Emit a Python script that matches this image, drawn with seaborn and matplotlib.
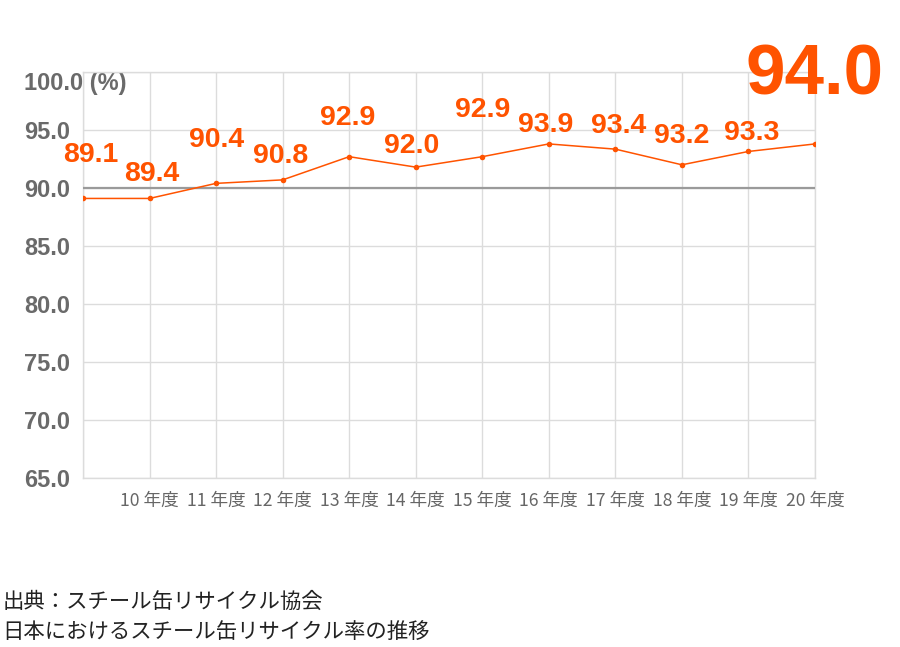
import numpy as np
import pandas as pd
import seaborn as sns
import matplotlib.pyplot as plt

# fiscal years, rate as drawn, and numbers printed above the points
years = ['09', '10', '11', '12', '13', '14', '15', '16', '17', '18', '19', '20']
rates = [89.1, 89.1, 90.4, 90.7, 92.7, 91.8, 92.7, 93.8, 93.35, 92.0, 93.15, 93.8]
rate_labels = ['89.1', '89.4', '90.4', '90.8', '92.9', '92.0', '92.9', '93.9', '93.4', '93.2', '93.3']
latest_label = '94.0'
tick_labels = [''] + [y + ' 年度' for y in years[1:]]
y_ticks = [65, 70, 75, 80, 85, 90, 95, 100]
y_tick_labels = ['65.0', '70.0', '75.0', '80.0', '85.0', '90.0', '95.0', '100.0 (%)']
source_lines = ['出典：スチール缶リサイクル協会', '日本におけるスチール缶リサイクル率の推移']

# label offsets (pixels) so the numbers don't collide
label_offsets = [(8, 36), (2, 17), (0, 36), (-2, 17), (-2, 32), (-4, 14),
                 (0, 40), (-3, 12), (3, 16), (0, 22), (3, 11)]

ORANGE = '#ff5300'
GRID = '#dcdcdc'

sns.set_style('white')
plt.rcParams['font.family'] = ['Liberation Sans', 'Noto Sans CJK JP', 'DejaVu Sans']

df = pd.DataFrame({'x': np.arange(len(years)), 'rate': rates})

fig = plt.figure(figsize=(9, 6.47), dpi=100)
ax = fig.add_axes([83 / 900, 1 - 478 / 647, (815 - 83) / 900, (478 - 72) / 647])

sns.lineplot(data=df, x='x', y='rate', ax=ax, color=ORANGE, linewidth=1.1,
             marker='o', markersize=4, markeredgewidth=0, zorder=5)

ax.set_xlim(0, len(years) - 1)
ax.set_ylim(65, 100)
ax.set_xticks(df['x'])
ax.set_xticklabels(tick_labels, family=['Noto Sans CJK JP', 'DejaVu Sans'],
                   fontsize=12.7, color='#666666')
ax.set_yticks(y_ticks)
ax.set_yticklabels(y_tick_labels, ha='left', fontsize=17, fontweight='bold',
                   color='#6a6a6a')
ax.get_yticklabels()[-1].set_va('top')
ax.tick_params(axis='y', length=0, pad=42.5)
ax.tick_params(axis='x', length=0, pad=10)
ax.set_xlabel('')
ax.set_ylabel('')

ax.grid(True, color=GRID, linewidth=1)
ax.axhline(90, color='#9a9a9a', linewidth=1.6, zorder=3)
for s in ax.spines.values():
    s.set_color(GRID)
    s.set_linewidth(1)

for i, txt in enumerate(rate_labels):
    ax.annotate(txt, (df['x'][i], rates[i]), xytext=label_offsets[i],
                textcoords='offset pixels', ha='center', va='baseline',
                fontsize=20.5, fontweight='bold', color=ORANGE, zorder=6)

ax.annotate(latest_label, (df['x'].iloc[-1], rates[-1]), xytext=(0, 49),
            textcoords='offset pixels', ha='center', va='baseline',
            fontsize=51, fontweight='bold', color=ORANGE, zorder=6,
            annotation_clip=False)

for k, line in enumerate(source_lines):
    fig.text(0.003, 1 - (602 + 30 * k) / 647, line, ha='left', va='center',
             fontsize=15.4, color='#222222', family=['Noto Sans CJK JP', 'DejaVu Sans'])

fig.savefig('out.png', dpi=100)
